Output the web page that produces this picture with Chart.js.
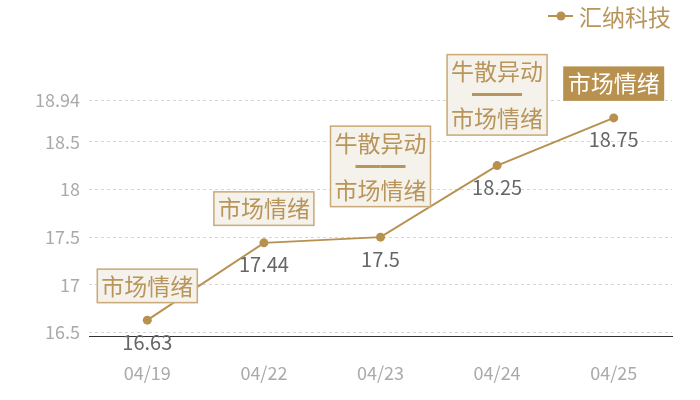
<!DOCTYPE html>
<html>
<head>
<meta charset="utf-8">
<script src="https://cdn.jsdelivr.net/npm/chart.js@4.4.1/dist/chart.umd.min.js"></script>
<style>
  html, body { margin: 0; padding: 0; background: #fff; }
  #wrap { width: 700px; height: 400px; }
</style>
</head>
<body>
<div id="wrap"><canvas id="chart"></canvas></div>
<script>
const categories = ['04/19', '04/22', '04/23', '04/24', '04/25'];
const prices = [16.63, 17.44, 17.5, 18.25, 18.75];
const tags = [
  ['市场情绪'],
  ['市场情绪'],
  ['牛散异动', '━━', '市场情绪'],
  ['牛散异动', '━━', '市场情绪'],
  ['市场情绪']
];
const highlighted = [false, false, false, false, true];
const yTickValues = [16.5, 17, 17.5, 18, 18.5];
const seriesName = '汇纳科技';

const FONT = '"Noto Sans CJK SC", "Noto Sans", sans-serif';
const GOLD = '#b8914f';
const TAG_TEXT = '#b8955a';

const yMin = Math.min(...prices) * 0.99;
const yMax = Math.max(...prices) * 1.01;

// point labels + tag boxes + legend
const decorations = {
  id: 'decorations',
  afterDatasetsDraw(chart) {
    const ctx = chart.ctx;
    const meta = chart.getDatasetMeta(0);
    ctx.save();
    ctx.textAlign = 'center';
    ctx.textBaseline = 'middle';

    meta.data.forEach((pt, i) => {
      // value under point
      ctx.font = '20px ' + FONT;
      ctx.fillStyle = '#666';
      ctx.fillText(String(prices[i]), pt.x, pt.y + 22);

      // tag box above point
      const lines = tags[i];
      const lh = 23.5;
      const w = 101;
      const h = lines.length * lh + 11;
      const gap = 17 + (lines.length - 1) * 6.5;
      const bottom = pt.y - gap;
      const top = bottom - h;
      const left = pt.x - w / 2;
      if (highlighted[i]) {
        ctx.fillStyle = GOLD;
        ctx.fillRect(left, top, w, h);
      } else {
        ctx.fillStyle = '#f5f1eb';
        ctx.fillRect(left, top, w, h);
        ctx.strokeStyle = '#c9aa78';
        ctx.lineWidth = 1.5;
        ctx.strokeRect(left + 0.5, top + 0.5, w - 1, h - 1);
      }
      ctx.fillStyle = highlighted[i] ? '#fff' : TAG_TEXT;
      lines.forEach((t, k) => {
        ctx.font = (t.startsWith('━') ? '25px ' : '23px ') + FONT;
        ctx.fillText(t, pt.x, top + 5.5 + lh * k + lh / 2);
      });
    });

    // legend
    ctx.strokeStyle = GOLD;
    ctx.lineWidth = 2;
    ctx.beginPath();
    ctx.moveTo(548, 16);
    ctx.lineTo(573, 16);
    ctx.stroke();
    ctx.fillStyle = GOLD;
    ctx.beginPath();
    ctx.arc(561, 16, 4.5, 0, Math.PI * 2);
    ctx.fill();
    ctx.font = '23px ' + FONT;
    ctx.fillStyle = TAG_TEXT;
    ctx.textAlign = 'left';
    ctx.fillText(seriesName, 579, 17);
    ctx.restore();
  }
};

new Chart(document.getElementById('chart'), {
  type: 'line',
  data: {
    labels: categories,
    datasets: [{
      label: seriesName,
      data: prices,
      borderColor: GOLD,
      backgroundColor: GOLD,
      borderWidth: 2,
      pointRadius: 4.5,
      pointBackgroundColor: GOLD,
      pointBorderWidth: 0,
      tension: 0
    }]
  },
  options: {
    responsive: true,
    maintainAspectRatio: false,
    animation: false,
    layout: { padding: { top: 100, right: 28, left: 0, bottom: 0 } },
    plugins: {
      legend: { display: false },
      tooltip: { enabled: false }
    },
    scales: {
      x: {
        offset: true,
        grid: { display: false, drawTicks: false },
        border: { display: true, color: '#333', width: 1 },
        ticks: {
          color: '#aaa',
          padding: 26,
          font: { size: 18, family: FONT }
        },
        afterFit(scale) { scale.height = 64; }
      },
      y: {
        min: yMin,
        max: yMax,
        afterBuildTicks(scale) {
          scale.ticks = yTickValues.concat([yMax]).map(v => ({ value: v }));
        },
        grid: {
          color: '#d6d6d6',
          drawTicks: false,
          lineWidth: 1
        },
        border: { display: false, dash: [3, 3] },
        ticks: {
          color: '#aaa',
          padding: 9,
          font: { size: 18, family: FONT },
          callback: v => String(Number(v.toFixed(2)))
        },
        afterFit(scale) { scale.width = 89; }
      }
    }
  },
  plugins: [decorations]
});
</script>
</body>
</html>
